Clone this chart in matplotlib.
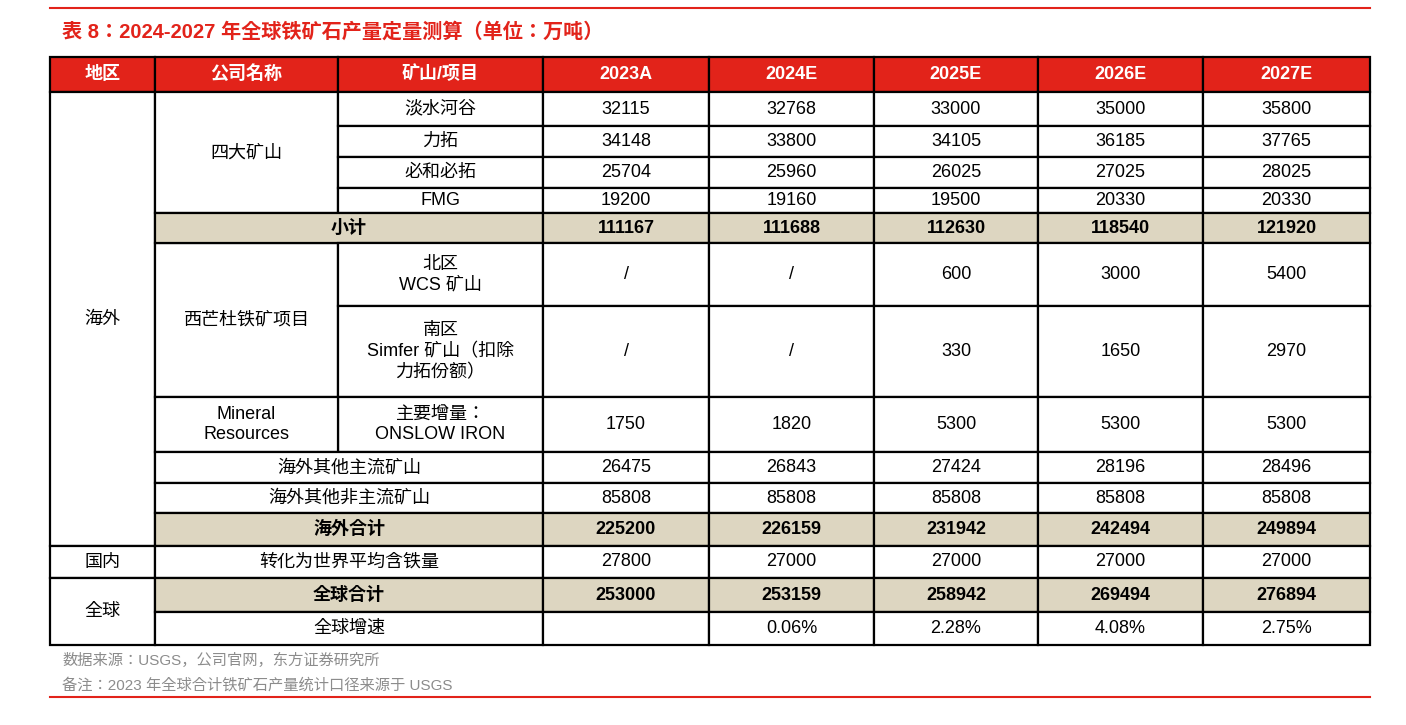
import matplotlib.pyplot as plt
from matplotlib.patches import Rectangle

plt.rcParams["font.family"] = ["Liberation Sans", "Noto Sans CJK JP", "Noto Sans CJK SC",
                               "DejaVu Sans"]

title = "表 8：2024-2027 年全球铁矿石产量定量测算（单位：万吨）"
headers = ["地区", "公司名称", "矿山/项目", "2023A", "2024E", "2025E", "2026E", "2027E"]
years = ["2023A", "2024E", "2025E", "2026E", "2027E"]
v_vale = ["32115", "32768", "33000", "35000", "35800"]
v_rio = ["34148", "33800", "34105", "36185", "37765"]
v_bhp = ["25704", "25960", "26025", "27025", "28025"]
v_fmg = ["19200", "19160", "19500", "20330", "20330"]
v_sub = ["111167", "111688", "112630", "118540", "121920"]
v_north = ["/", "/", "600", "3000", "5400"]
v_south = ["/", "/", "330", "1650", "2970"]
v_mrl = ["1750", "1820", "5300", "5300", "5300"]
v_main = ["26475", "26843", "27424", "28196", "28496"]
v_nonmain = ["85808", "85808", "85808", "85808", "85808"]
v_overseas = ["225200", "226159", "231942", "242494", "249894"]
v_domestic = ["27800", "27000", "27000", "27000", "27000"]
v_global = ["253000", "253159", "258942", "269494", "276894"]
v_growth = ["", "0.06%", "2.28%", "4.08%", "2.75%"]
notes = ["数据来源：USGS，公司官网，东方证券研究所",
         "备注：2023 年全球合计铁矿石产量统计口径来源于 USGS"]

# layout in pixels
X = [50, 155, 338, 543, 709, 874, 1038, 1203, 1370]
R = [57, 92, 126, 157, 188, 213, 243, 306, 397, 452, 483, 513, 546, 578, 612, 645]
RED = "#E2231A"
BEIGE = "#DDD6C1"

fig = plt.figure(figsize=(14.06, 7.25), dpi=100)
ax = fig.add_axes([0, 0, 1, 1])
ax.set_xlim(0, 1406)
ax.set_ylim(725, 0)
ax.axis("off")

ax.plot([50, 1370], [8, 8], color=RED, lw=1.5)
ax.plot([50, 1370], [697, 697], color=RED, lw=1.5)
ax.text(62, 32, title, color=RED, fontsize=14.5, fontweight="bold", va="center")

def cell(c0, c1, r0, r1, txt, fill="white", color="black", bold=False):
    x0, x1 = X[c0], X[c1]
    y0, y1 = R[r0], R[r1]
    ax.add_patch(Rectangle((x0, y0), x1 - x0, y1 - y0, facecolor=fill,
                           edgecolor="black", lw=1.6))
    ax.text((x0 + x1) / 2, (y0 + y1) / 2, txt, ha="center", va="center",
            fontsize=13, color=color, fontweight="bold" if bold else "normal",
            linespacing=1.3)

# header
for i, h in enumerate(headers):
    cell(i, i + 1, 0, 1, h, fill=RED, color="white", bold=True)

rows = [
    (None, "淡水河谷", v_vale),
    (None, "力拓", v_rio),
    (None, "必和必拓", v_bhp),
    (None, "FMG", v_fmg),
    ("小计", None, v_sub),
    (None, "北区\nWCS 矿山", v_north),
    (None, "南区\nSimfer 矿山（扣除\n力拓份额）", v_south),
    ("Mineral\nResources", "主要增量：\nONSLOW IRON", v_mrl),
    ("海外其他主流矿山", None, v_main),
    ("海外其他非主流矿山", None, v_nonmain),
    ("海外合计", None, v_overseas),
    ("转化为世界平均含铁量", None, v_domestic),
    ("全球合计", None, v_global),
    ("全球增速", None, v_growth),
]
bold_rows = {4, 10, 12}

# merged cells
cell(0, 1, 1, 12, "海外")
cell(0, 1, 12, 13, "国内")
cell(0, 1, 13, 15, "全球")
cell(1, 2, 1, 5, "四大矿山")
cell(1, 2, 6, 8, "西芒杜铁矿项目")

for i, (comp, mine, vals) in enumerate(rows):
    r = i + 1
    b = i in bold_rows
    fill = BEIGE if b else "white"
    if mine is not None:
        cell(2, 3, r, r + 1, mine)
        if comp is not None:
            cell(1, 2, r, r + 1, comp)
    elif comp is not None:
        cell(1, 3, r, r + 1, comp, fill=fill, bold=b)
    for j, v in enumerate(vals):
        cell(3 + j, 4 + j, r, r + 1, v, fill=fill, bold=b)

for k, n in enumerate(notes):
    ax.text(62, 660 + 25 * k, n, color="#8C8C8C", fontsize=11, va="center")

fig.savefig("out.png", dpi=100)
